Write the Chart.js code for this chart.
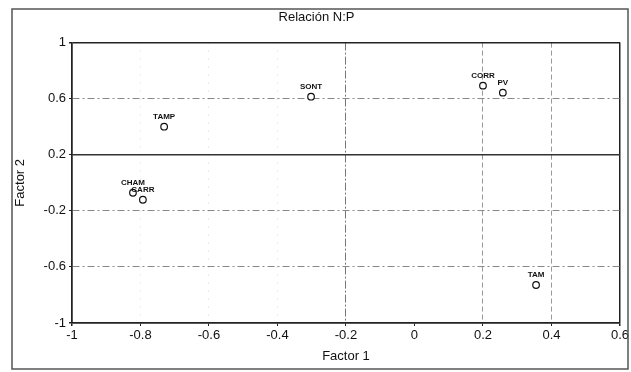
<!DOCTYPE html>
<html>
<head>
<meta charset="utf-8">
<script src="https://cdn.jsdelivr.net/npm/chart.js@4/dist/chart.umd.min.js"></script>
<style>
  html, body { margin: 0; padding: 0; background: #fff; }
  #wrap { width: 631px; height: 372px; position: relative; }
</style>
</head>
<body>
<div id="wrap"><canvas id="c" width="631" height="372"></canvas></div>
<script>
const pointLabels = ['SONT', 'TAMP', 'CORR', 'PV', 'TAM', 'CHAM', 'CARR'];
const factor1 = [-0.302, -0.731, 0.200, 0.258, 0.355, -0.822, -0.793];
const factor2 = [0.614, 0.400, 0.693, 0.643, -0.729, -0.071, -0.121];
const xTicks = [-1, -0.8, -0.6, -0.4, -0.2, 0, 0.2, 0.4, 0.6];
const yTicks = [-1, -0.6, -0.2, 0.2, 0.6, 1];

const points = factor1.map((x, i) => ({ x: x, y: factor2[i] }));
const near = (a, b) => Math.abs(a - b) < 1e-6;
const fmt = v => String(Math.round(v * 10) / 10);

const frame = {
  id: 'frame',
  afterDraw(chart) {
    const c = chart.ctx;
    c.save();
    c.strokeStyle = '#555';
    c.lineWidth = 1.5;
    c.strokeRect(12, 9, 616, 360);
    // solid reference line at y = 0.2
    const ys = chart.scales.y, xs = chart.scales.x;
    const yp = ys.getPixelForValue(0.2);
    c.strokeStyle = '#333';
    c.lineWidth = 1.5;
    c.beginPath();
    c.moveTo(xs.left, yp); c.lineTo(xs.right, yp);
    c.stroke();
    // labels above points
    const meta = chart.getDatasetMeta(0);
    c.fillStyle = '#111';
    c.font = 'bold 8px "Liberation Sans", Arial, sans-serif';
    c.textAlign = 'center';
    c.textBaseline = 'middle';
    meta.data.forEach((el, i) => {
      c.fillText(pointLabels[i], el.x, el.y - 10);
    });
    c.restore();
  }
};

new Chart(document.getElementById('c'), {
  type: 'scatter',
  data: {
    datasets: [{
      data: points,
      pointStyle: 'circle',
      pointRadius: 3.3,
      pointBorderWidth: 1.2,
      borderColor: '#111',
      backgroundColor: '#fff',
      pointBackgroundColor: '#fff',
      pointBorderColor: '#111'
    }]
  },
  options: {
    responsive: false,
    animation: false,
    devicePixelRatio: 1,
    layout: { padding: { left: 13, right: 11, top: 0, bottom: 0 } },
    plugins: {
      legend: { display: false },
      tooltip: { enabled: false },
      title: {
        display: true,
        text: 'Relación N:P',
        color: '#111',
        font: { family: '"Liberation Sans", Arial, sans-serif', size: 13, weight: 'normal' },
        padding: { top: 10, bottom: 17 }
      }
    },
    scales: {
      x: {
        type: 'linear',
        min: -1, max: 0.6,
        afterBuildTicks: s => { s.ticks = xTicks.map(v => ({ value: v })); },
        afterFit: s => { s.height = 49; },
        ticks: {
          color: '#111',
          font: { family: '"Liberation Sans", Arial, sans-serif', size: 13 },
          padding: 2,
          maxRotation: 0,
          autoSkip: false,
          callback: v => fmt(v)
        },
        title: {
          display: true,
          text: 'Factor 1',
          color: '#111',
          font: { family: '"Liberation Sans", Arial, sans-serif', size: 13 },
          padding: { top: 2, bottom: 8 }
        },
        grid: {
          drawTicks: true,
          tickLength: 3,
          lineWidth: ctx => {
            const v = ctx.tick ? ctx.tick.value : null;
            if (v === null) return 1;
            if (near(v, -1) || near(v, 0.6)) return 1.5;
            return 1;
          },
          color: ctx => {
            const v = ctx.tick ? ctx.tick.value : null;
            if (v === null) return '#222';
            if (near(v, -1) || near(v, 0.6)) return '#222';
            if (near(v, 0)) return 'rgba(0,0,0,0)';
            if (near(v, -0.2)) return '#777';
            if (near(v, 0.2) || near(v, 0.4)) return '#999';
            return '#d8d8d8';
          },
          tickColor: '#222'
        },
        border: {
          display: true,
          color: '#222',
          width: 1.5,
          dash: ctx => {
            const v = ctx.tick ? ctx.tick.value : null;
            if (v === null) return [];
            if (near(v, -1) || near(v, 0.6)) return [];
            if (near(v, -0.2)) return [8, 2, 2, 2];
            if (near(v, 0.2) || near(v, 0.4)) return [5, 3];
            return [1, 7];
          }
        }
      },
      y: {
        type: 'linear',
        min: -1, max: 1,
        afterBuildTicks: s => { s.ticks = yTicks.map(v => ({ value: v })); },
        afterFit: s => { s.width = 59; },
        ticks: {
          color: '#111',
          font: { family: '"Liberation Sans", Arial, sans-serif', size: 13 },
          padding: 3,
          autoSkip: false,
          callback: v => fmt(v)
        },
        title: {
          display: true,
          text: 'Factor 2',
          color: '#111',
          font: { family: '"Liberation Sans", Arial, sans-serif', size: 13 },
          padding: { top: 0, bottom: 4 }
        },
        grid: {
          drawTicks: true,
          tickLength: 3,
          lineWidth: ctx => {
            const v = ctx.tick ? ctx.tick.value : null;
            if (v !== null && (near(v, -1) || near(v, 1))) return 1.5;
            return 1;
          },
          color: ctx => {
            const v = ctx.tick ? ctx.tick.value : null;
            if (v === null) return '#222';
            if (near(v, -1) || near(v, 1)) return '#222';
            if (near(v, 0.2)) return 'rgba(0,0,0,0)';
            return '#888';
          },
          tickColor: '#222'
        },
        border: {
          display: true,
          color: '#222',
          width: 1.5,
          dash: ctx => {
            const v = ctx.tick ? ctx.tick.value : null;
            if (v === null) return [];
            if (near(v, -1) || near(v, 1)) return [];
            return [7, 3, 2, 3];
          }
        }
      }
    }
  },
  plugins: [frame]
});
</script>
</body>
</html>
